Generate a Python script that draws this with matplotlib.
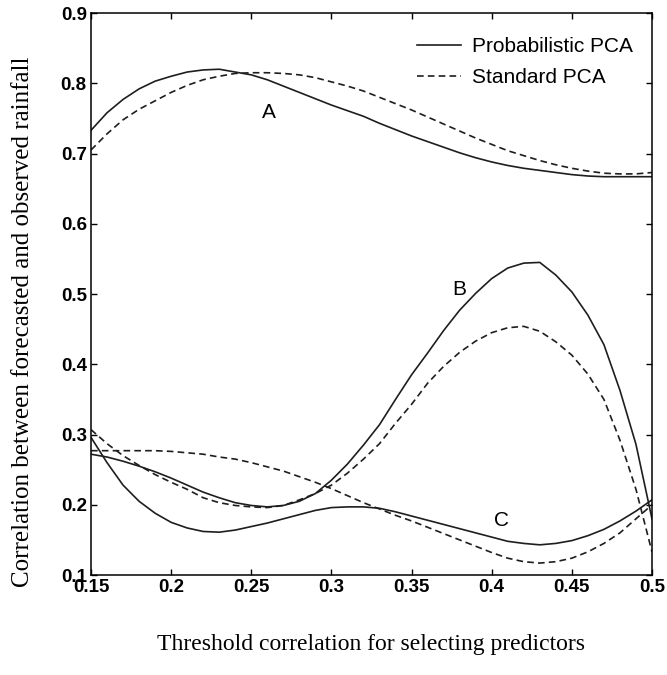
import numpy as np
import matplotlib
matplotlib.use('Agg')
from matplotlib import pyplot as plt

# threshold grid
thresh = [0.15, 0.16, 0.17, 0.18, 0.19, 0.20, 0.21, 0.22, 0.23, 0.24, 0.25, 0.26,
          0.27, 0.28, 0.29, 0.30, 0.31, 0.32, 0.33, 0.34, 0.35, 0.36, 0.37, 0.38,
          0.39, 0.40, 0.41, 0.42, 0.43, 0.44, 0.45, 0.46, 0.47, 0.48, 0.49, 0.50]

a_prob = [0.733, 0.758, 0.777, 0.792, 0.803, 0.810, 0.816, 0.819, 0.820, 0.816, 0.812, 0.805,
          0.796, 0.787, 0.778, 0.769, 0.761, 0.753, 0.743, 0.734, 0.725, 0.717, 0.709, 0.701,
          0.694, 0.688, 0.683, 0.679, 0.676, 0.673, 0.670, 0.668, 0.667, 0.667, 0.667, 0.667]
a_std = [0.705, 0.728, 0.748, 0.763, 0.775, 0.787, 0.797, 0.805, 0.810, 0.814, 0.815, 0.815,
         0.814, 0.812, 0.808, 0.802, 0.796, 0.789, 0.780, 0.771, 0.762, 0.752, 0.742, 0.732,
         0.722, 0.713, 0.704, 0.697, 0.690, 0.684, 0.679, 0.675, 0.672, 0.671, 0.671, 0.673]

b_prob = [0.272, 0.268, 0.262, 0.255, 0.247, 0.238, 0.228, 0.218, 0.210, 0.203, 0.199, 0.197,
          0.199, 0.205, 0.216, 0.235, 0.258, 0.285, 0.314, 0.350, 0.385, 0.416, 0.448, 0.477,
          0.501, 0.522, 0.537, 0.544, 0.545, 0.527, 0.503, 0.470, 0.428, 0.363, 0.286, 0.180]
b_std = [0.307, 0.287, 0.270, 0.256, 0.243, 0.232, 0.222, 0.210, 0.203, 0.199, 0.197, 0.196,
         0.199, 0.207, 0.216, 0.228, 0.245, 0.265, 0.287, 0.316, 0.343, 0.373, 0.397, 0.417,
         0.433, 0.445, 0.452, 0.454, 0.447, 0.432, 0.413, 0.386, 0.350, 0.292, 0.222, 0.133]

c_prob = [0.296, 0.260, 0.228, 0.205, 0.188, 0.175, 0.167, 0.162, 0.161, 0.164, 0.169, 0.174,
          0.180, 0.186, 0.192, 0.196, 0.197, 0.197, 0.195, 0.190, 0.184, 0.178, 0.172, 0.166,
          0.160, 0.154, 0.148, 0.145, 0.143, 0.145, 0.149, 0.156, 0.165, 0.177, 0.191, 0.207]
c_std = [0.277, 0.277, 0.277, 0.277, 0.277, 0.276, 0.274, 0.272, 0.268, 0.265, 0.260, 0.254,
         0.248, 0.240, 0.232, 0.223, 0.213, 0.203, 0.194, 0.185, 0.177, 0.168, 0.159, 0.150,
         0.141, 0.132, 0.124, 0.119, 0.117, 0.119, 0.124, 0.133, 0.145, 0.160, 0.180, 0.200]

xticks = [0.15, 0.2, 0.25, 0.3, 0.35, 0.4, 0.45, 0.5]
xticklabels = ['0.15', '0.2', '0.25', '0.3', '0.35', '0.4', '0.45', '0.5']
yticks = [0.1, 0.2, 0.3, 0.4, 0.5, 0.6, 0.7, 0.8, 0.9]
yticklabels = ['0.1', '0.2', '0.3', '0.4', '0.5', '0.6', '0.7', '0.8', '0.9']

curve_labels = [('A', 0.261, 0.759), ('B', 0.380, 0.506), ('C', 0.406, 0.178)]

dash = (0, (4, 2.5))
lw = 1.2
ink = '#1e1e1e'

fig = plt.figure(figsize=(6.67, 6.75), dpi=100)
ax = fig.add_axes([0.1364, 0.1481, 0.8411, 0.8326])

ax.plot(thresh, a_prob, color=ink, lw=lw, label='Probabilistic PCA')
ax.plot(thresh, a_std, color=ink, lw=lw, ls=dash, label='Standard PCA')
ax.plot(thresh, b_prob, color=ink, lw=lw)
ax.plot(thresh, b_std, color=ink, lw=lw, ls=dash)
ax.plot(thresh, c_prob, color=ink, lw=lw)
ax.plot(thresh, c_std, color=ink, lw=lw, ls=dash)

for txt, x, y in curve_labels:
    ax.text(x, y, txt, fontsize=15, family='Liberation Sans', ha='center', va='center')

ax.set_xlim(0.15, 0.5)
ax.set_ylim(0.1, 0.9)
ax.set_xticks(xticks)
ax.set_xticklabels(xticklabels, fontsize=13.5, fontweight='bold', family='Liberation Sans')
ax.set_yticks(yticks)
ax.set_yticklabels(yticklabels, fontsize=13.5, fontweight='bold', family='Liberation Sans')
ax.tick_params(direction='in', length=4.5, width=1.0, top=True, right=True, pad=3)
for sp in ax.spines.values():
    sp.set_linewidth(1.1)

ax.set_xlabel('Threshold correlation for selecting predictors', fontsize=17,
              family='Liberation Serif', labelpad=27)
ax.set_ylabel('Correlation between forecasted and observed rainfall', fontsize=18,
              family='Liberation Serif')
# label sits lower than the axis centre
ax.yaxis.set_label_coords(-0.101, 0.45)

leg = ax.legend(loc='upper right', bbox_to_anchor=(1.0, 0.99), frameon=False,
                handlelength=2.1, handletextpad=0.55,
                prop={'family': 'Liberation Sans', 'size': 15}, borderaxespad=0.5,
                labelspacing=0.55)

fig.savefig('out.png', dpi=100)
